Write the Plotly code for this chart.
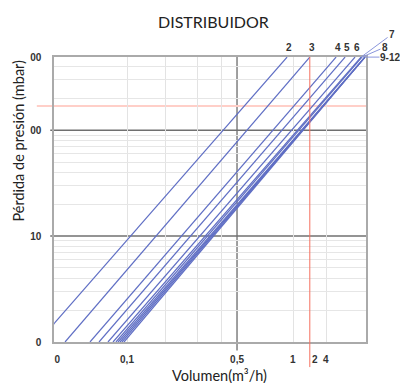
import math
import plotly.graph_objects as go

# ---- data ----
line_names = ["2", "3", "4", "5", "6", "7", "8", "9", "10", "11", "12"]
# flow (m3/h) where each line is at 1 mbar and at the top of the chart (490 mbar)
q_at_low = [0.0272, 0.0404, 0.0582, 0.0664, 0.0757, 0.0815, 0.0851, 0.0877, 0.0903, 0.0929, 0.0957]
q_at_top = [1.04, 1.45, 2.13, 2.43, 2.81, 3.07, 3.11, 3.25, 3.25, 3.25, 3.25]
dp_low = 1
dp_top = 490

# reference (red) lines
red_q = 1.45
red_dp = 169

# axis tick labels as printed
x_tick_vals = [0.036, 0.1, 0.5, 1.13, 1.56, 1.83]
x_tick_text = ["0", "0,1", "0,5", "1", "2", "4"]
y_tick_vals = [1, 10, 100, 490]
y_tick_text = ["0", "10", "00", "00"]
x_light_grid = [0.1, 0.175, 0.28, 0.4, 1.15, 1.85]
x_dark_grid = [0.5]
y_dark_grid = [10, 100]

BLUE = "#5f6ec4"
TXT = "#333333"

fig = go.Figure()
for name, q0, q1 in zip(line_names, q_at_low, q_at_top):
    fig.add_trace(go.Scatter(x=[q0, q1], y=[dp_low, dp_top], mode="lines",
                             line=dict(color=BLUE, width=1.2), name=name,
                             showlegend=False, hoverinfo="skip"))

y_minor = [k * 10 ** d for d in range(3) for k in range(2, 10)]

# page body has an 8px margin: figure is 8px smaller and offset accordingly
fig.update_layout(
    width=400, height=375, autosize=False,
    margin=dict(l=46, r=42, t=49, b=41),
    paper_bgcolor="white", plot_bgcolor="white",
    xaxis=dict(type="log", range=[-1.4638, 0.5184],
               tickmode="array", tickvals=x_tick_vals, ticktext=x_tick_text,
               showgrid=False, zeroline=False, ticks="",
               ticklabelstandoff=7,
               tickfont=dict(family="Liberation Sans", size=10, color=TXT, weight="bold"),
               showline=True, mirror=True, linecolor="#aaaaaa", linewidth=1.5,
               minor=dict(tickmode="array", tickvals=x_light_grid, showgrid=True,
                          gridcolor="#e3e3e3", gridwidth=1, ticks="")),
    yaxis=dict(type="log", range=[0, 2.6911],
               tickmode="array", tickvals=y_tick_vals, ticktext=y_tick_text,
               showgrid=False, zeroline=False, ticks="",
               ticklabelstandoff=9,
               tickfont=dict(family="Liberation Sans", size=10, color=TXT, weight="bold"),
               showline=True, mirror=True, linecolor="#aaaaaa", linewidth=1.5,
               minor=dict(tickmode="array", tickvals=y_minor, showgrid=True,
                          gridcolor="#e6e6e6", gridwidth=1, ticks="")),
)

shapes = []
for v in x_dark_grid:
    shapes.append(dict(type="line", xref="x", yref="paper", x0=v, x1=v, y0=-0.03, y1=1,
                       line=dict(color="#808080", width=1.5), layer="below"))
for v in y_dark_grid:
    shapes.append(dict(type="line", xref="paper", yref="y", x0=-0.012, x1=1, y0=v, y1=v,
                       line=dict(color="#707070", width=1.5), layer="below"))
shapes.append(dict(type="line", xref="paper", yref="y", x0=-0.055, x1=1, y0=red_dp, y1=red_dp,
                   line=dict(color="#ffcfc8", width=2), layer="below"))
shapes.append(dict(type="line", xref="x", yref="paper", x0=red_q, x1=red_q, y0=-0.088, y1=1,
                   line=dict(color="#f5705f", width=1), layer="above"))
fig.update_layout(shapes=shapes)

lab_font = dict(family="Liberation Sans", size=10, color=TXT, weight="bold")
ly_top = math.log10(dp_top)  # annotations on log axes are placed in log10 units
ann = []
for name, q1 in zip(line_names[:5], q_at_top[:5]):
    ann.append(dict(x=math.log10(q1), y=ly_top, xref="x", yref="y", text=name, showarrow=False,
                    font=lab_font, xshift=2, yshift=10, xanchor="center", yanchor="middle"))
# labels with leader lines
ann.append(dict(x=math.log10(q_at_top[5]), y=ly_top, xref="x", yref="y", text="7", showarrow=True,
                arrowhead=0, arrowwidth=1, arrowcolor="#8a96dc", ax=31, ay=-23,
                font=lab_font))
ann.append(dict(x=math.log10(q_at_top[6]), y=ly_top, xref="x", yref="y", text="8", showarrow=True,
                arrowhead=0, arrowwidth=1, arrowcolor="#8a96dc", ax=23, ay=-10,
                font=lab_font))
ann.append(dict(x=math.log10(q_at_top[7]), y=ly_top, xref="x", yref="y", text="9-12", showarrow=True,
                arrowhead=0, arrowwidth=1, arrowcolor="#8a96dc", ax=25, ay=0,
                font=lab_font, borderpad=0))
# titles
ann.append(dict(x=0.51, y=1.126, xref="paper", yref="paper", text="DISTRIBUIDOR",
                showarrow=False, font=dict(family="Lato", size=16, color="#222222"),
                xanchor="center", yanchor="middle"))
ann.append(dict(x=0.532, y=-0.116, xref="paper", yref="paper", text="Volumen(m³/h)",
                showarrow=False, font=dict(family="Lato", size=14.5, color="#222222"),
                xanchor="center", yanchor="middle"))
ann.append(dict(x=-46 / 312, y=0.705, xref="paper", yref="paper", text="Pérdida de presión (mbar)",
                showarrow=False, textangle=-90, font=dict(family="Lato", size=14.5, color="#222222"),
                xanchor="left", yanchor="middle"))
fig.update_layout(annotations=ann)

fig.write_html("out.html")
